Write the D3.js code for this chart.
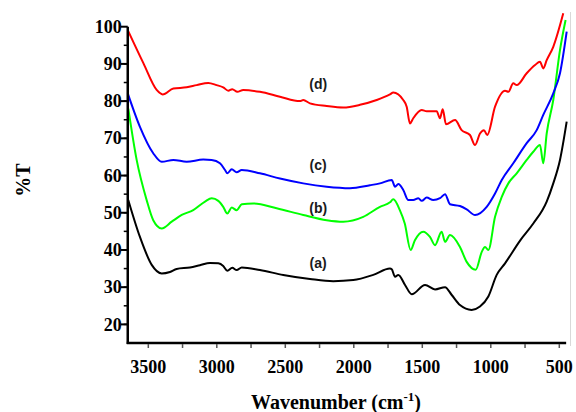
<!DOCTYPE html>
<html>
<head>
<meta charset="utf-8">
<script src="https://cdn.jsdelivr.net/npm/d3@7"></script>
<style>
  body { margin: 0; background: #fff; }
  svg { display: block; }
</style>
</head>
<body>
<div id="chart"></div>
<script>
// spectra: wavenumber (cm-1) and %T
const wnA = [3646, 3561, 3475, 3402, 3342, 3293, 3196, 3123, 3050, 2989, 2953, 2923, 2887, 2855, 2818, 2685, 2515, 2320, 2150, 2004, 1858, 1736, 1723, 1699, 1675, 1626, 1577, 1480, 1407, 1334, 1285, 1225, 1140, 1079, 1018, 957, 896, 785, 690, 592, 544, 495, 446];
const tA  = [53.4, 43.5, 36.0, 33.7, 34.1, 34.9, 35.3, 35.9, 36.5, 36.4, 35.7, 34.4, 35.2, 34.6, 35.3, 34.6, 33.3, 32.2, 31.6, 31.9, 33.3, 35.0, 34.8, 32.8, 33.3, 30.6, 28.1, 30.6, 29.4, 30.0, 27.9, 25.2, 23.9, 24.8, 27.5, 33.3, 36.4, 42.6, 47.1, 53.0, 57.9, 64.2, 74.5];

const wnB = [3646, 3585, 3512, 3464, 3402, 3329, 3256, 3172, 3086, 3037, 2989, 2953, 2923, 2891, 2855, 2818, 2734, 2563, 2369, 2198, 2077, 1931, 1809, 1736, 1712, 1664, 1628, 1585, 1554, 1493, 1444, 1407, 1359, 1334, 1298, 1225, 1176, 1110, 1066, 1042, 1018, 969, 920, 872, 811, 738, 690, 641, 617, 592, 544, 495, 454];
const tB  = [78.0, 64.2, 53.4, 48.0, 45.8, 47.6, 49.4, 50.7, 53.0, 53.9, 53.2, 51.6, 49.8, 51.4, 50.7, 52.3, 52.5, 51.2, 49.4, 48.0, 47.6, 48.9, 51.6, 52.8, 53.6, 50.7, 47.1, 40.0, 42.6, 44.9, 43.5, 41.3, 44.9, 42.2, 44.0, 40.8, 36.8, 34.7, 39.5, 40.8, 40.0, 48.9, 54.3, 57.9, 60.6, 64.2, 66.4, 68.2, 63.3, 71.3, 80.3, 93.7, 101.8];

const wnC = [3650, 3561, 3464, 3402, 3317, 3220, 3099, 3037, 2977, 2940, 2923, 2891, 2855, 2818, 2685, 2539, 2369, 2198, 2028, 1882, 1809, 1723, 1699, 1675, 1639, 1602, 1566, 1529, 1504, 1468, 1420, 1371, 1334, 1298, 1225, 1176, 1115, 1030, 969, 920, 836, 738, 665, 617, 544, 495, 446];
const tC  = [82.1, 73.1, 66.0, 63.7, 64.2, 63.7, 64.3, 64.2, 63.3, 61.5, 60.6, 61.7, 60.9, 61.5, 60.6, 59.2, 57.9, 57.0, 56.6, 57.4, 57.9, 58.8, 57.0, 57.7, 56.1, 53.4, 53.4, 53.9, 53.2, 54.1, 53.4, 53.9, 55.0, 52.3, 51.8, 50.9, 49.4, 51.6, 55.2, 58.8, 63.3, 68.7, 72.2, 76.3, 82.1, 87.5, 98.7];

const wnD = [3650, 3536, 3439, 3395, 3317, 3220, 3147, 3062, 3001, 2953, 2916, 2887, 2850, 2807, 2685, 2539, 2393, 2369, 2320, 2198, 2077, 1955, 1833, 1736, 1712, 1639, 1614, 1590, 1566, 1504, 1468, 1395, 1371, 1351, 1327, 1261, 1213, 1152, 1115, 1079, 1050, 1026, 969, 896, 872, 836, 811, 738, 677, 641, 617, 592, 544, 471];
const tD  = [99.1, 90.2, 83.0, 81.8, 83.4, 83.7, 84.3, 84.9, 84.3, 83.7, 82.8, 83.2, 82.5, 83.0, 82.5, 81.2, 80.0, 80.3, 79.4, 78.7, 78.3, 79.0, 80.3, 81.8, 82.3, 80.3, 78.5, 74.0, 75.4, 77.6, 77.3, 77.3, 75.4, 77.8, 73.8, 74.9, 72.2, 70.9, 68.2, 71.3, 72.2, 70.9, 78.5, 82.8, 82.5, 84.8, 84.3, 87.5, 89.7, 90.6, 88.8, 91.0, 94.6, 103.6];

const seriesNames = ["(a)", "(b)", "(c)", "(d)"];
const seriesColors = ["#000000", "#00ff00", "#0000ff", "#ff0000"];
const labelWn = [2260, 2260, 2260, 2260];
const labelT = [36.4, 51.2, 62.8, 84.5];
const xTicks = [3500, 3000, 2500, 2000, 1500, 1000, 500];
const yTicks = [20, 30, 40, 50, 60, 70, 80, 90, 100];

const width = 576, height = 412;

const x = d3.scaleLinear().domain([3650, 450]).range([127.75, 566.15]);
const y = d3.scaleLinear().domain([15, 100]).range([343, 26.7]);

const svg = d3.select("#chart").append("svg")
  .attr("width", width)
  .attr("height", height);

// faint frame edge on the right
svg.append("line")
  .attr("x1", 570.5).attr("x2", 570.5)
  .attr("y1", 12).attr("y2", 346)
  .attr("stroke", "#d9d9d9").attr("stroke-width", 1);

const series = [
  { wn: wnA, t: tA },
  { wn: wnB, t: tB },
  { wn: wnC, t: tC },
  { wn: wnD, t: tD }
];

const line = d3.line()
  .x(d => x(d[0]))
  .y(d => y(d[1]))
  .curve(d3.curveMonotoneX);

svg.append("g").selectAll("path")
  .data(series)
  .join("path")
    .attr("d", s => line(s.wn.map((w, i) => [w, s.t[i]])))
    .attr("fill", "none")
    .attr("stroke", (s, i) => seriesColors[i])
    .attr("stroke-width", 2)
    .attr("stroke-linejoin", "round");

svg.append("g").selectAll("text")
  .data(seriesNames)
  .join("text")
    .attr("x", (d, i) => x(labelWn[i]))
    .attr("y", (d, i) => y(labelT[i]))
    .attr("dy", "0.36em")
    .attr("text-anchor", "middle")
    .attr("font-family", "'Liberation Sans', Arial, sans-serif")
    .attr("font-weight", "bold")
    .attr("font-size", 14)
    .attr("fill", "#1a1a1a")
    .text(d => d);

// x axis
const xMinor = d3.range(3500, 449, -250);
const gx = svg.append("g")
  .attr("transform", `translate(0,${y(15)})`);
gx.append("line")
  .attr("x1", x(3650) - 1).attr("x2", x(450))
  .attr("stroke", "#000").attr("stroke-width", 2.5);
gx.selectAll("line.minor")
  .data(xMinor)
  .join("line")
    .attr("class", "minor")
    .attr("x1", d => x(d)).attr("x2", d => x(d))
    .attr("y1", 1).attr("y2", 5)
    .attr("stroke", "#555").attr("stroke-width", 1.5);
gx.selectAll("text")
  .data(xTicks)
  .join("text")
    .attr("x", d => x(d))
    .attr("y", 30)
    .attr("text-anchor", "middle")
    .attr("font-family", "'Liberation Serif', 'Times New Roman', serif")
    .attr("font-weight", "bold")
    .attr("font-size", 18)
    .text(d => d);

// y axis
const yMinor = d3.range(20, 100, 5);
const gy = svg.append("g")
  .attr("transform", `translate(${x(3650)},0)`);
gy.append("line")
  .attr("y1", y(100)).attr("y2", y(15) + 1)
  .attr("stroke", "#000").attr("stroke-width", 2.5);
gy.selectAll("line.minor")
  .data(yMinor)
  .join("line")
    .attr("class", "minor")
    .attr("x1", -4).attr("x2", 0)
    .attr("y1", d => y(d)).attr("y2", d => y(d))
    .attr("stroke", "#000").attr("stroke-width", 1.5);
gy.selectAll("line.major")
  .data(yTicks)
  .join("line")
    .attr("class", "major")
    .attr("x1", -7).attr("x2", 0)
    .attr("y1", d => y(d)).attr("y2", d => y(d))
    .attr("stroke", "#000").attr("stroke-width", 2);
gy.selectAll("text")
  .data(yTicks)
  .join("text")
    .attr("x", -6)
    .attr("y", d => y(d))
    .attr("dy", "0.34em")
    .attr("text-anchor", "end")
    .attr("font-family", "'Liberation Serif', 'Times New Roman', serif")
    .attr("font-weight", "bold")
    .attr("font-size", 18)
    .text(d => d);

// axis titles
const xTitle = svg.append("text")
  .attr("x", 336)
  .attr("y", 409)
  .attr("text-anchor", "middle")
  .attr("font-family", "'Liberation Serif', 'Times New Roman', serif")
  .attr("font-weight", "bold")
  .attr("font-size", 20);
xTitle.append("tspan").text("Wavenumber (cm");
xTitle.append("tspan").attr("font-size", 13).attr("dy", -8).text("-1");
xTitle.append("tspan").attr("dy", 8).text(")");

svg.append("text")
  .attr("transform", "translate(30,180) rotate(-90)")
  .attr("text-anchor", "middle")
  .attr("font-family", "'Liberation Serif', 'Times New Roman', serif")
  .attr("font-weight", "bold")
  .attr("font-size", 20)
  .text("%T");
</script>
</body>
</html>
